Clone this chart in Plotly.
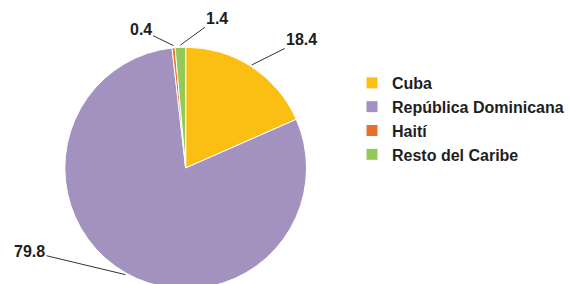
import math
import plotly.graph_objects as go

categories = ["Cuba", "República Dominicana", "Haití", "Resto del Caribe"]
values = [18.4, 79.8, 0.4, 1.4]
colors = ["#FBBF14", "#A391BF", "#E8702B", "#92C957"]
value_labels = ["18.4", "79.8", "0.4", "1.4"]

W, H = 569, 296
# pie centre (189, 168) px from top-left of the domain box, radius 123 px
PCX, PCY, R = 189.0, 168.0, 123.0
dom_x = [(PCX - R) / W, (PCX + R) / W]
dom_y = [(H - PCY - R) / H, (H - PCY + R) / H]
cx = (dom_x[0] + dom_x[1]) / 2
cy = (dom_y[0] + dom_y[1]) / 2
FONT = "Liberation Sans, Arial, sans-serif"

fig = go.Figure(go.Pie(
    labels=categories, values=values, sort=False, direction="clockwise", rotation=0,
    marker=dict(colors=colors, line=dict(color="white", width=1)),
    textinfo="none", hoverinfo="label+value",
    domain=dict(x=dom_x, y=dom_y),
))

# label offsets (pixels) for each value label
offsets = {"18.4": (50, -25), "79.8": (-96, -23), "0.4": (-33, -16), "1.4": (37, -27)}
total = sum(values)
cum = 0.0
annotations = []
for lab, v in zip(value_labels, values):
    mid = (cum + v / 2) / total * 2 * math.pi
    cum += v
    tx = cx + R * math.sin(mid) / W
    ty = cy + R * math.cos(mid) / H
    ax, ay = offsets[lab]
    annotations.append(dict(
        x=tx, y=ty, xref="paper", yref="paper", text=f"<b>{lab}</b>",
        showarrow=True, arrowhead=0, arrowwidth=1, arrowcolor="#333333",
        ax=ax, ay=ay, standoff=0, startstandoff=0,
        font=dict(family=FONT, size=16, color="#1e1e1e"),
    ))

fig.update_layout(
    width=W, height=H, margin=dict(l=0, r=0, t=0, b=0),
    paper_bgcolor="white", plot_bgcolor="white",
    annotations=annotations,
    showlegend=True,
    legend=dict(
        x=0.63, y=1 - 66 / H, xanchor="left", yanchor="top",
        font=dict(family=FONT, size=16, color="#1e1e1e", weight="bold"),
        itemwidth=30, tracegroupgap=0,
    ),
)

fig.write_html("out.html", config={"displayModeBar": False},
               post_script="document.body.style.margin='0';")
